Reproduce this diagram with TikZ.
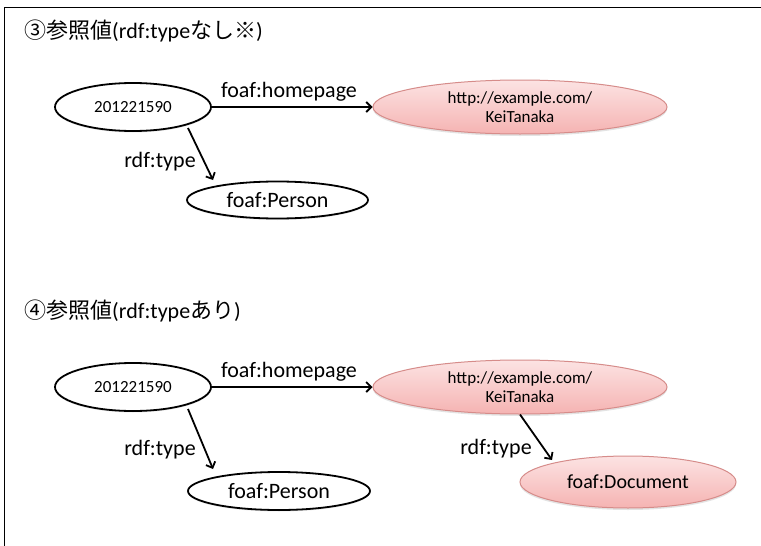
\documentclass[tikz,border=0pt]{standalone}
\usepackage{fontspec}
\setmainfont{Carlito}
\newfontfamily\cjk{Noto Sans CJK JP}
\usetikzlibrary{shapes.geometric,arrows.meta,shadows,calc}

\definecolor{pinktop}{HTML}{FCE3E3}
\definecolor{pinkbot}{HTML}{F5B3B2}
\definecolor{pinkedge}{HTML}{D68C8A}

\tikzset{
  res/.style={ellipse, draw=black, line width=1.8pt, fill=white, inner sep=0pt,
    drop shadow={opacity=0.18, shadow xshift=0pt, shadow yshift=-1.5pt}},
  lit/.style={ellipse, draw=pinkedge, line width=1pt, inner sep=0pt,
    top color=pinktop, bottom color=pinkbot, align=center,
    drop shadow={opacity=0.22, shadow xshift=0pt, shadow yshift=-2pt}},
  lbl/.style={inner sep=0pt, font=\fontsize{22}{24}\selectfont},
  arr/.style={line width=1.8pt, -{Straight Barb[length=5pt,width=10pt,line width=1.8pt]}},
  heading/.style={anchor=west, inner sep=0pt, font=\fontsize{22}{24}\selectfont}
}

\begin{document}
\begin{tikzpicture}[x=1pt, y=-1pt]
  \useasboundingbox (0,0) rectangle (761,546);
  \fill[white] (0,0) rectangle (761,546);
  % frame
  \draw[line width=1.5pt] (4.5,546) -- (4.5,7.5) -- (761,7.5);

  % ---- part 3: reference without rdf:type ----
  \node[heading] (t3) at (24,31) {{\cjk ③参照値}(rdf:type{\cjk なし※})};

  \node[res, minimum width=156pt, minimum height=48pt,
        font=\fontsize{17}{19}\selectfont] (s1) at (133,107) {201221590};
  \node[lit, minimum width=294pt, minimum height=54pt,
        font=\fontsize{17}{19}\selectfont] (hp1) at (520,107) {http://example.com/\\KeiTanaka};
  \node[res, minimum width=181pt, minimum height=37pt,
        font=\fontsize{22}{24}\selectfont] (ty1) at (277.5,200) {foaf:Person};

  \draw[arr] (s1.east) -- (hp1.west);
  \draw[arr] ($(s1)+(55,21)$) -- ($(ty1)+(-64.5,-20)$);
  \node[lbl] (hl1) at (289,91.5) {foaf:homepage};
  \node[lbl] (tl1) at (160,162) {rdf:type};

  % ---- part 4: reference with rdf:type ----
  \node[heading] (t4) at (24,311) {{\cjk ④参照値}(rdf:type{\cjk あり})};

  \node[res, minimum width=156pt, minimum height=48pt,
        font=\fontsize{17}{19}\selectfont] (s2) at (133,387) {201221590};
  \node[lit, minimum width=294pt, minimum height=54pt,
        font=\fontsize{17}{19}\selectfont] (hp2) at (520,387) {http://example.com/\\KeiTanaka};
  \node[res, minimum width=182pt, minimum height=38pt,
        font=\fontsize{22}{24}\selectfont] (ty2) at (279,491) {foaf:Person};
  \node[lit, minimum width=216pt, minimum height=52pt,
        font=\fontsize{20}{22}\selectfont] (doc) at (628,482) {foaf:Document};

  \draw[arr] (s2.east) -- (hp2.west);
  \draw[arr] ($(s2)+(55,22)$) -- ($(ty2)+(-66,-22)$);
  \draw[arr] (hp2.south) -- ($(doc)+(-76,-22)$);
  \node[lbl] (hl2) at (289,372) {foaf:homepage};
  \node[lbl] (tl2) at (160,450) {rdf:type};
  \node[lbl] (tl3) at (496,449) {rdf:type};
\end{tikzpicture}
\end{document}
